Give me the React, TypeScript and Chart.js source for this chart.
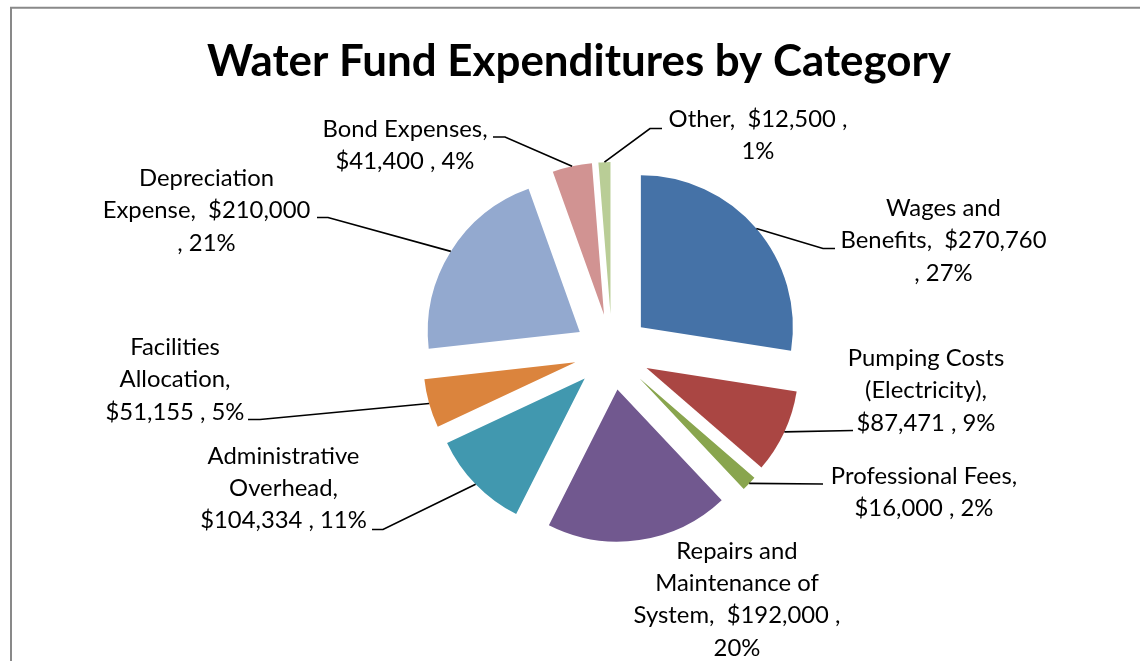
import React, { useEffect, useRef } from "react";
import { Chart, registerables } from "chart.js";

Chart.register(...registerables);

const TITLE = "Water Fund Expenditures by Category";

const categories = [
  "Wages and Benefits",
  "Pumping Costs (Electricity)",
  "Professional Fees",
  "Repairs and Maintenance of System",
  "Administrative Overhead",
  "Facilities Allocation",
  "Depreciation Expense",
  "Bond Expenses",
  "Other",
];

const amounts = [270760, 87471, 16000, 192000, 104334, 51155, 210000, 41400, 12500];

const percents = ["27%", "9%", "2%", "20%", "11%", "5%", "21%", "4%", "1%"];

// label text as wrapped in the original
const labelLines = [
  ["Wages and", "Benefits,  $270,760", ", 27%"],
  ["Pumping Costs", "(Electricity),", "$87,471 , 9%"],
  ["Professional Fees,", "$16,000 , 2%"],
  ["Repairs and", "Maintenance of", "System,  $192,000 ,", "20%"],
  ["Administrative", "Overhead,", "$104,334 , 11%"],
  ["Facilities", "Allocation,", "$51,155 , 5%"],
  ["Depreciation", "Expense,  $210,000", ", 21%"],
  ["Bond Expenses,", "$41,400 , 4%"],
  ["Other,  $12,500 ,", "1%"],
];

const colors = [
  "#4572A7",
  "#AA4643",
  "#89A54E",
  "#71588F",
  "#4198AF",
  "#DB843D",
  "#93A9CF",
  "#D19392",
  "#B9CD96",
];

// ---- layout (positions / styles) ----
const W = 1140;
const H = 661;
const EXPLODE = 38;
const RADIUS = 152;
const LINE_H = 32.4;
const FONT = "Lato, 'Open Sans', sans-serif";
const TITLE_SIZE = 43;
const LABEL_SIZE = 22.5;

type LabelLayout = { cx: number; y: number; leader: number[][] | null };
const labelLayout: LabelLayout[] = [
  { cx: 943.5, y: 216, leader: [[823, 248.5], [835, 248.5]] },
  { cx: 926, y: 366, leader: [[853, 430.5]] },
  { cx: 924, y: 484, leader: [[823, 484]] },
  { cx: 737, y: 558.5, leader: null },
  { cx: 283.5, y: 463.5, leader: [[383, 529.5], [372, 529.5]] },
  { cx: 175, y: 355, leader: [[260, 419.5], [248, 419.5]] },
  { cx: 206.5, y: 186, leader: [[328, 217.5], [317, 217.5]] },
  { cx: 405, y: 137, leader: [[505, 137], [493, 137]] },
  { cx: 758, y: 127, leader: [[650, 128.5], [662, 128.5]] },
];

// horizontal squeeze so that a reference string spans the target width
function squeeze(ctx: CanvasRenderingContext2D, font: string, text: string, target: number) {
  ctx.font = font;
  return Math.min(1.1, target / ctx.measureText(text).width);
}

function drawText(ctx: CanvasRenderingContext2D, text: string, x: number, y: number, sx: number) {
  ctx.save();
  ctx.translate(x, y);
  ctx.scale(sx, 1);
  ctx.fillText(text, 0, 0);
  ctx.restore();
}

export default function App() {
  const ref = useRef<HTMLCanvasElement>(null);

  useEffect(() => {
    const canvas = ref.current;
    if (!canvas) return;

    const explodePlugin = {
      id: "explodeSlices",
      beforeDatasetsDraw(chart: any) {
        const ctx = chart.ctx as CanvasRenderingContext2D;
        const meta = chart.getDatasetMeta(0);
        meta.data.forEach((arc: any) => {
          const mid = (arc.startAngle + arc.endAngle) / 2;
          ctx.save();
          ctx.translate(Math.cos(mid) * EXPLODE, Math.sin(mid) * EXPLODE);
          arc.draw(ctx, chart.chartArea);
          ctx.restore();
        });
        return false;
      },
    };

    const annotatePlugin = {
      id: "annotate",
      afterDraw(chart: any) {
        const ctx = chart.ctx as CanvasRenderingContext2D;
        ctx.save();
        // chart border (only top and left visible in frame)
        ctx.strokeStyle = "#898989";
        ctx.lineWidth = 2;
        ctx.beginPath();
        ctx.moveTo(11, H + 10);
        ctx.lineTo(11, 7.7);
        ctx.lineTo(W + 10, 7.7);
        ctx.stroke();

        // title
        const titleFont = `bold ${TITLE_SIZE}px ${FONT}`;
        const tsx = squeeze(ctx, titleFont, TITLE, 744);
        ctx.font = titleFont;
        ctx.fillStyle = "#000";
        ctx.textAlign = "center";
        ctx.textBaseline = "alphabetic";
        drawText(ctx, TITLE, 579, 76, tsx);

        // leaders
        const meta = chart.getDatasetMeta(0);
        ctx.strokeStyle = "#000";
        ctx.lineWidth = 1.7;
        meta.data.forEach((arc: any, i: number) => {
          const lay = labelLayout[i];
          if (!lay || !lay.leader) return;
          const mid = (arc.startAngle + arc.endAngle) / 2;
          const r = arc.outerRadius + EXPLODE;
          ctx.beginPath();
          ctx.moveTo(arc.x + Math.cos(mid) * r, arc.y + Math.sin(mid) * r);
          lay.leader.forEach((p) => ctx.lineTo(p[0], p[1]));
          ctx.stroke();
        });

        // labels
        const labelFont = `normal ${LABEL_SIZE}px ${FONT}`;
        const lsx = squeeze(ctx, labelFont, "Benefits,  $270,760", 206);
        ctx.font = labelFont;
        ctx.fillStyle = "#000";
        labelLines.forEach((lines, i) => {
          const lay = labelLayout[i];
          lines.forEach((t, k) => drawText(ctx, t, lay.cx, lay.y + k * LINE_H, lsx));
        });
        ctx.restore();
      },
    };

    const chart = new Chart(canvas, {
      type: "pie",
      data: {
        labels: categories.map((c, i) => `${c}, ${percents[i]}`),
        datasets: [
          {
            data: amounts,
            backgroundColor: colors,
            borderWidth: 0,
          },
        ],
      },
      options: {
        responsive: false,
        animation: false,
        devicePixelRatio: 1,
        radius: RADIUS,
        layout: { padding: { left: 312, right: 228, top: 100, bottom: 57 } },
        plugins: {
          legend: { display: false },
          tooltip: { enabled: false },
          title: { display: false },
        },
      } as any,
      plugins: [explodePlugin, annotatePlugin],
    });

    return () => chart.destroy();
  }, []);

  return (
    <div
      style={{
        position: "absolute",
        left: 0,
        top: 0,
        width: W,
        height: H,
        background: "#fff",
        overflow: "hidden",
      }}
    >
      <canvas ref={ref} width={W} height={H} style={{ display: "block", width: W, height: H }} />
    </div>
  );
}
